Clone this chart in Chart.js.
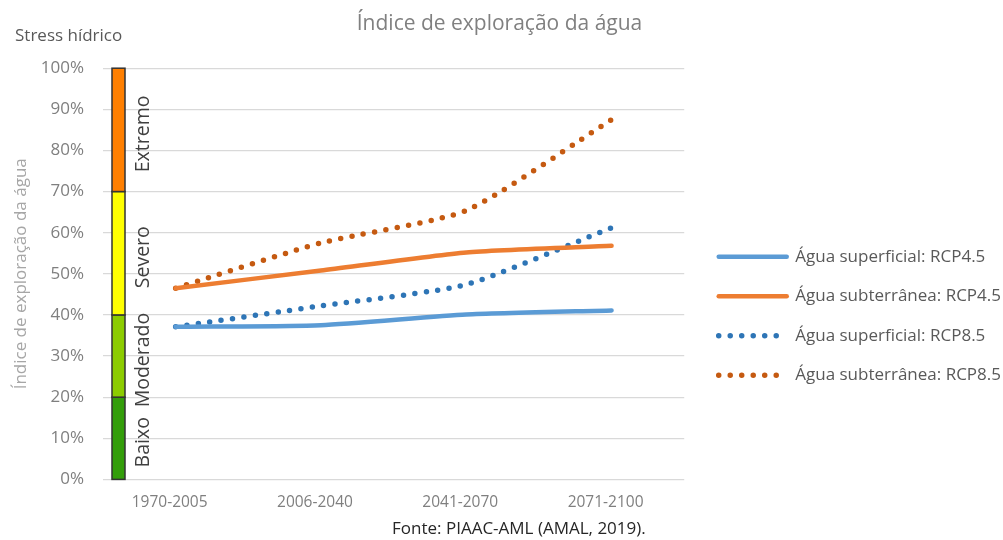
<!DOCTYPE html>
<html>
<head>
<meta charset="utf-8">
<script src="https://cdn.jsdelivr.net/npm/chart.js@4.4.1/dist/chart.umd.min.js"></script>
<style>
  html, body { margin: 0; padding: 0; background: #fff; }
  #wrap { width: 1003px; height: 540px; }
</style>
</head>
<body>
<div id="wrap"><canvas id="exploracaoChart"></canvas></div>
<script>
// Dados (percentagem)
const periodos = ['1970-2005', '2006-2040', '2041-2070', '2071-2100'];
const superficial45 = [37.1, 37.5, 40.1, 41.1];
const subterranea45 = [46.5, 50.8, 55.2, 56.8];
const superficial85 = [37.1, 42.2, 47.4, 61.2];
const subterranea85 = [46.5, 57.5, 65.4, 87.5];

// Classes de stress hídrico
const faixasNome = ['Baixo', 'Moderado', 'Severo', 'Extremo'];
const faixasDe = [0, 20, 40, 70];
const faixasAte = [20, 40, 70, 100];

const coresFaixas = ['#339e0a', '#8ccc00', '#ffff00', '#ff7f00'];
const fonte = '"Open Sans", sans-serif';

// Barra colorida à esquerda + textos soltos
const faixasStress = {
    id: 'faixasStress',
    beforeDatasetsDraw(chart) {
        const { ctx, chartArea, scales: { y } } = chart;
        const x0 = chartArea.left + 9;
        ctx.save();
        faixasNome.forEach((nome, i) => {
            const topo = y.getPixelForValue(faixasAte[i]);
            const base = y.getPixelForValue(faixasDe[i]);
            ctx.fillStyle = coresFaixas[i];
            ctx.fillRect(x0, topo, 13, base - topo);
            ctx.strokeStyle = '#333333';
            ctx.lineWidth = 1.5;
            ctx.strokeRect(x0, topo, 13, base - topo);

            ctx.save();
            ctx.translate(chartArea.left + 40, (topo + base) / 2 + 4);
            ctx.rotate(-Math.PI / 2);
            ctx.fillStyle = '#404040';
            ctx.font = '19.5px ' + fonte;
            ctx.textAlign = 'center';
            ctx.textBaseline = 'middle';
            ctx.fillText(nome, 0, 0);
            ctx.restore();
        });
        ctx.restore();
    },
    afterDraw(chart) {
        const ctx = chart.ctx;
        ctx.save();
        ctx.textBaseline = 'middle';
        ctx.textAlign = 'left';
        ctx.font = '17px ' + fonte;
        ctx.fillStyle = '#595959';
        ctx.fillText('Stress hídrico', 15, 36);
        ctx.fillStyle = '#262626';
        ctx.fillText('Fonte: PIAAC-AML (AMAL, 2019).', 392, 529);
        ctx.restore();
    }
};

// Empurra a legenda para a posição do original
const ajusteLegenda = {
    id: 'ajusteLegenda',
    afterLayout(chart) {
        const lg = chart.legend;
        lg.left += 12;
        lg.right += 12;
        lg.top += 53;
        lg.bottom += 53;
    }
};

const ctx = document.getElementById('exploracaoChart').getContext('2d');
const exploracaoChart = new Chart(ctx, {
    type: 'line',
    data: {
        labels: periodos,
        datasets: [{
            label: 'Água superficial: RCP4.5',
            data: superficial45,
            borderColor: '#5b9bd5',
            borderWidth: 4.5,
            borderCapStyle: 'round'
        }, {
            label: 'Água subterrânea: RCP4.5',
            data: subterranea45,
            borderColor: '#ed7d31',
            borderWidth: 4.5,
            borderCapStyle: 'round'
        }, {
            label: 'Água superficial: RCP8.5',
            data: superficial85,
            borderColor: '#2e75b6',
            borderWidth: 5.5,
            borderDash: [0, 11.5],
            borderCapStyle: 'round'
        }, {
            label: 'Água subterrânea: RCP8.5',
            data: subterranea85,
            borderColor: '#c55a11',
            borderWidth: 5.5,
            borderDash: [0, 11.5],
            borderCapStyle: 'round'
        }]
    },
    options: {
        responsive: true,
        maintainAspectRatio: false,
        animation: false,
        layout: {
            padding: { top: 0, left: 0, right: 4, bottom: 14 }
        },
        elements: {
            point: { radius: 0 },
            line: { tension: 0.2, fill: false }
        },
        scales: {
            x: {
                offset: true,
                grid: { display: false, drawTicks: false },
                border: { display: false },
                ticks: {
                    color: '#7f7f7f',
                    font: { family: fonte, size: 15.5 },
                    padding: 14,
                    labelOffset: -6
                }
            },
            y: {
                min: 0,
                max: 100,
                afterFit(scale) { scale.width = 103; },
                border: { display: false },
                grid: { color: '#d9d9d9', lineWidth: 1.2, drawTicks: false },
                ticks: {
                    stepSize: 10,
                    color: '#7f7f7f',
                    font: { family: fonte, size: 17 },
                    padding: 19,
                    callback: v => v + '%'
                },
                title: {
                    display: true,
                    text: 'Índice de exploração da água',
                    color: '#a6a6a6',
                    font: { family: fonte, size: 17 },
                    padding: { top: 11, bottom: 0 }
                }
            }
        },
        plugins: {
            title: {
                display: true,
                text: 'Índice de exploração da água',
                color: '#808080',
                font: { family: fonte, size: 21, weight: 'normal' },
                padding: { top: 11, bottom: 32 }
            },
            legend: {
                position: 'right',
                maxWidth: 330,
                labels: {
                    usePointStyle: true,
                    pointStyle: 'line',
                    pointStyleWidth: 68,
                    padding: 22.5,
                    color: '#595959',
                    font: { family: fonte, size: 17 },
                    // o traço da legenda copia o estilo da linha
                    generateLabels(chart) {
                        const itens = Chart.defaults.plugins.legend.labels.generateLabels(chart);
                        itens.forEach(item => {
                            const ds = chart.data.datasets[item.datasetIndex];
                            item.strokeStyle = ds.borderColor;
                            item.lineWidth = ds.borderWidth;
                            item.lineDash = ds.borderDash || [];
                            item.lineCap = ds.borderCapStyle;
                        });
                        return itens;
                    }
                }
            },
            tooltip: { enabled: false }
        }
    },
    plugins: [faixasStress, ajusteLegenda]
});
</script>
</body>
</html>
